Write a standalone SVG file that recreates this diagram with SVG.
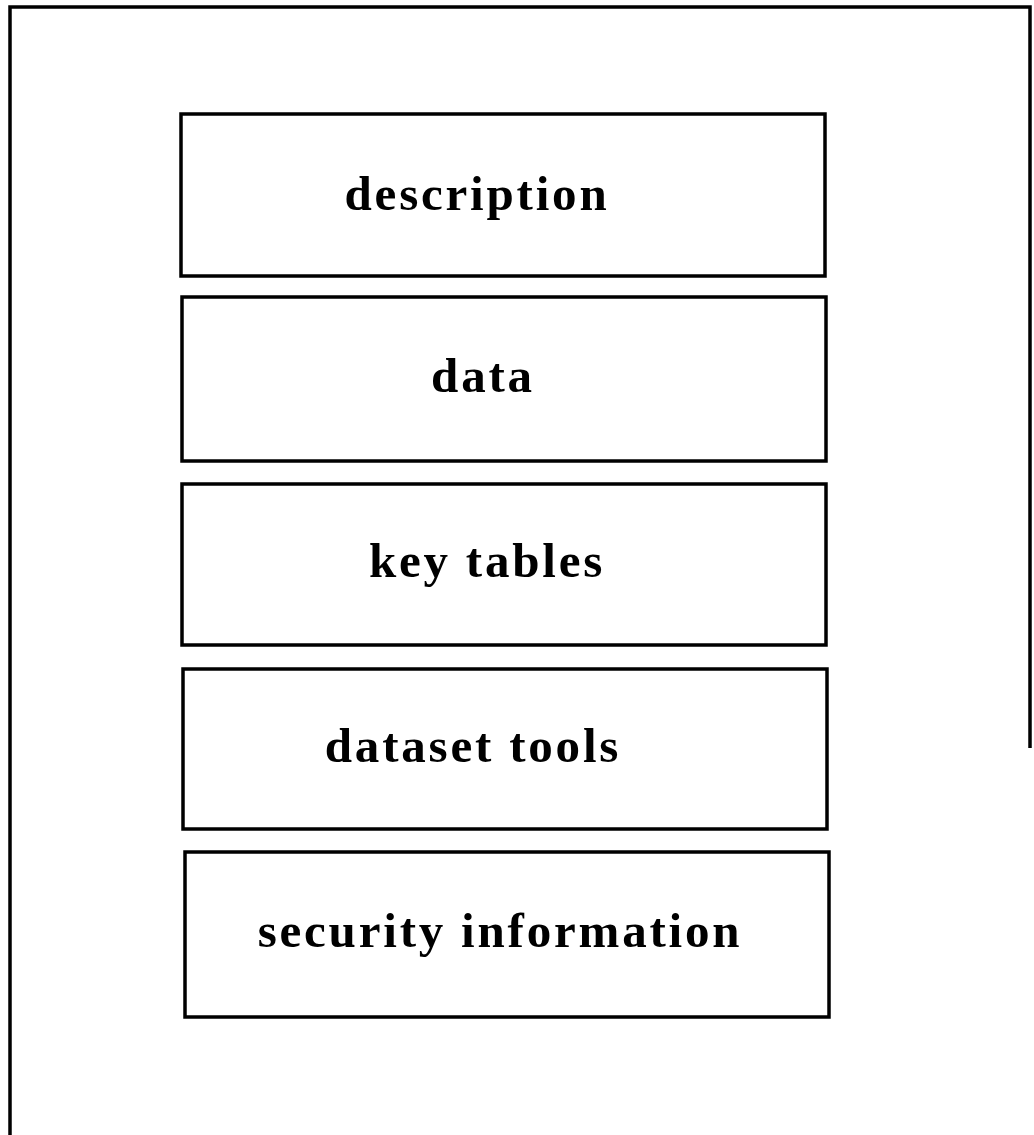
<svg xmlns="http://www.w3.org/2000/svg" width="1034" height="1135" viewBox="0 0 1034 1135">
<style>
.box{fill:none;stroke:#000;stroke-width:3.5}
.lbl{font-family:"Liberation Serif","Times New Roman",serif;font-weight:bold;font-size:49px;letter-spacing:2.8px;fill:#000;text-anchor:middle}
</style>
<rect width="1034" height="1135" fill="#fff"/>
<g id="frame">
<path d="M10,1135 L10,7 L1030,7 L1030,748" fill="none" stroke="#000" stroke-width="3.5"/>
</g>
<g id="description"><rect class="box" x="181" y="114" width="644" height="162"/><text class="lbl" x="477" y="210">description</text></g>
<g id="data"><rect class="box" x="182" y="297" width="644" height="164"/><text class="lbl" x="483" y="392">data</text></g>
<g id="key-tables"><rect class="box" x="182" y="484" width="644" height="161"/><text class="lbl" x="487" y="577">key tables</text></g>
<g id="dataset-tools"><rect class="box" x="183" y="669" width="644" height="160"/><text class="lbl" x="473" y="762">dataset tools</text></g>
<g id="security-information"><rect class="box" x="185" y="852" width="644" height="165"/><text class="lbl" x="500" y="947">security information</text></g>
<g id="connectors"/>
</svg>
